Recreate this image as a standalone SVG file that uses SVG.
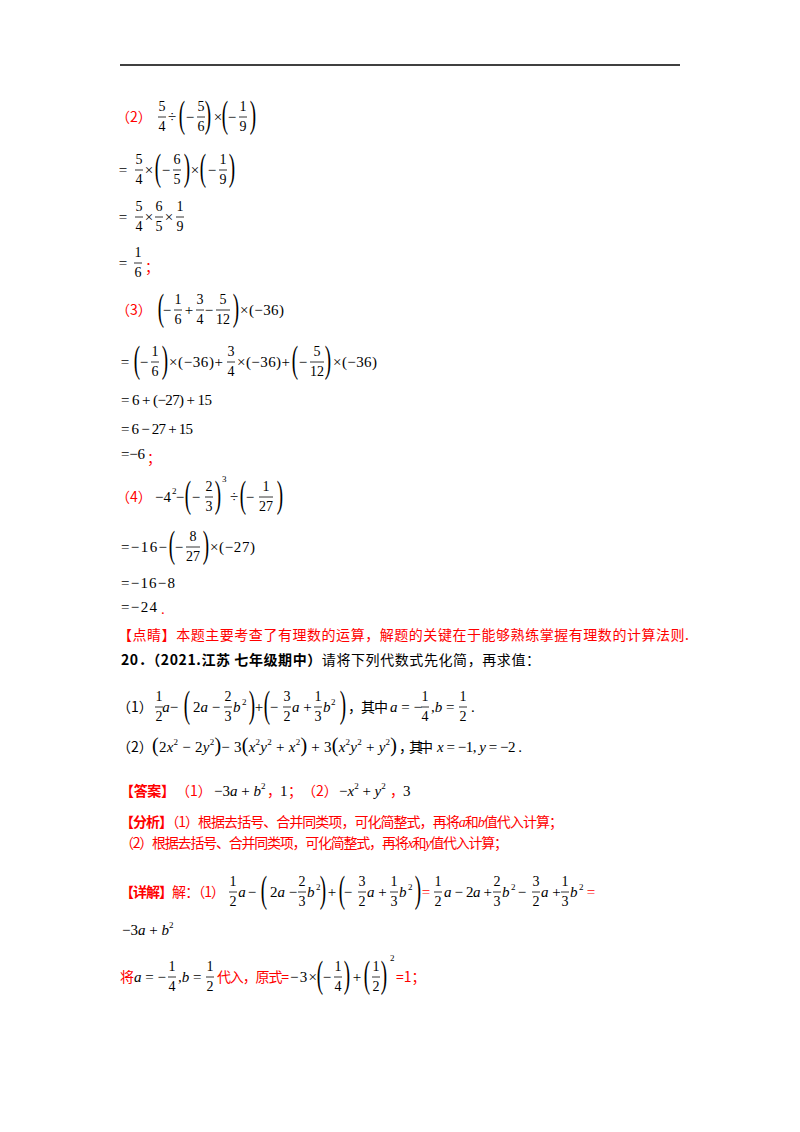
<svg xmlns="http://www.w3.org/2000/svg" width="800" height="1132" viewBox="0 0 800 1132">
<style>
text{font-family:"Liberation Serif","Noto Sans CJK SC",serif;font-size:15px;fill:#000}
.c{font-family:"Noto Sans CJK SC",sans-serif;font-size:14px}
.r{fill:#f00}
.i{font-style:italic}
.n{font-size:14px;text-anchor:middle}
.m{text-anchor:middle}
.s{font-size:9px}
.b{stroke:#000;stroke-width:0.8}
.P{font-size:38px;text-anchor:middle}
.bd{font-weight:bold}
</style>
<rect width="800" height="1132" fill="#fff"/>
<line x1="120" y1="65" x2="680" y2="65" stroke="#000" stroke-width="1.5"/>

<g id="l1">
<text class="c r" x="116" y="122" font-size="13">（2）</text>
<text class="n" x="162" y="111">5</text><text class="n" x="162" y="131">4</text><line class="b" x1="158" x2="166" y1="117" y2="117"/>
<text class="m" x="172" y="122">÷</text>
<text class="P" transform="translate(182,127) scale(0.5,1)">(</text>
<text class="m" x="190" y="122">−</text>
<text class="n" x="201" y="111">5</text><text class="n" x="201" y="131">6</text><line class="b" x1="197" x2="205" y1="117" y2="117"/>
<text class="P" transform="translate(208,127) scale(0.5,1)">)</text>
<text class="m" x="218" y="122">×</text>
<text class="P" transform="translate(225,127) scale(0.5,1)">(</text>
<text class="m" x="232" y="122">−</text>
<text class="n" x="243" y="111">1</text><text class="n" x="243" y="131">9</text><line class="b" x1="239" x2="247" y1="117" y2="117"/>
<text class="P" transform="translate(253,127) scale(0.5,1)">)</text>
</g>

<g id="l2">
<text class="m" x="123" y="175">=</text>
<text class="n" x="139" y="164">5</text><text class="n" x="139" y="184">4</text><line class="b" x1="135" x2="143" y1="170" y2="170"/>
<text class="m" x="149" y="175">×</text>
<text class="P" transform="translate(158,180) scale(0.5,1)">(</text>
<text class="m" x="166" y="175">−</text>
<text class="n" x="177" y="164">6</text><text class="n" x="177" y="184">5</text><line class="b" x1="173" x2="181" y1="170" y2="170"/>
<text class="P" transform="translate(187,180) scale(0.5,1)">)</text>
<text class="m" x="195" y="175">×</text>
<text class="P" transform="translate(203,180) scale(0.5,1)">(</text>
<text class="m" x="212" y="175">−</text>
<text class="n" x="223" y="164">1</text><text class="n" x="223" y="184">9</text><line class="b" x1="219" x2="227" y1="170" y2="170"/>
<text class="P" transform="translate(232,180) scale(0.5,1)">)</text>
</g>

<g id="l3">
<text class="m" x="123" y="222">=</text>
<text class="n" x="139" y="211">5</text><text class="n" x="139" y="231">4</text><line class="b" x1="135" x2="143" y1="217" y2="217"/>
<text class="m" x="149" y="222">×</text>
<text class="n" x="159" y="211">6</text><text class="n" x="159" y="231">5</text><line class="b" x1="155" x2="163" y1="217" y2="217"/>
<text class="m" x="169" y="222">×</text>
<text class="n" x="180" y="211">1</text><text class="n" x="180" y="231">9</text><line class="b" x1="176" x2="184" y1="217" y2="217"/>
</g>

<g id="l4">
<text class="m" x="123" y="268">=</text>
<text class="n" x="138" y="257">1</text><text class="n" x="138" y="277">6</text><line class="b" x1="134" x2="142" y1="263" y2="263"/>
<text class="c r" x="145" y="272">；</text>
</g>

<g id="l5">
<text class="c r" x="116" y="315" font-size="13">（3）</text>
<text class="P" transform="translate(161,320) scale(0.5,1)">(</text>
<text class="m" x="167" y="315">−</text>
<text class="n" x="178" y="304">1</text><text class="n" x="178" y="324">6</text><line class="b" x1="174" x2="182" y1="310" y2="310"/>
<text class="m" x="189" y="315">+</text>
<text class="n" x="200" y="304">3</text><text class="n" x="200" y="324">4</text><line class="b" x1="196" x2="204" y1="310" y2="310"/>
<text class="m" x="209" y="315">−</text>
<text class="n" x="223" y="304">5</text><text class="n" x="223" y="324">12</text><line class="b" x1="216" x2="230" y1="310" y2="310"/>
<text class="P" transform="translate(236,320) scale(0.5,1)">)</text>
<text x="240" y="315" textLength="44">×(−36)</text>
</g>

<g id="l6">
<text class="m" x="125" y="367">=</text>
<text class="P" transform="translate(137,372) scale(0.5,1)">(</text>
<text class="m" x="144" y="367">−</text>
<text class="n" x="155" y="356">1</text><text class="n" x="155" y="376">6</text><line class="b" x1="151" x2="159" y1="362" y2="362"/>
<text class="P" transform="translate(165,372) scale(0.5,1)">)</text>
<text x="169" y="367" textLength="54">×(−36)+</text>
<text class="n" x="231" y="356">3</text><text class="n" x="231" y="376">4</text><line class="b" x1="227" x2="235" y1="362" y2="362"/>
<text x="237" y="367" textLength="53">×(−36)+</text>
<text class="P" transform="translate(295,372) scale(0.5,1)">(</text>
<text class="m" x="303" y="367">−</text>
<text class="n" x="317" y="356">5</text><text class="n" x="317" y="376">12</text><line class="b" x1="310" x2="324" y1="362" y2="362"/>
<text class="P" transform="translate(328,372) scale(0.5,1)">)</text>
<text x="333" y="367" textLength="44">×(−36)</text>
</g>

<g id="l7"><text x="121" y="405" textLength="91">= 6 + (−27) + 15</text></g>
<g id="l8"><text x="121" y="434" textLength="72">= 6 − 27 + 15</text></g>
<g id="l9"><text x="121" y="459" textLength="24">=−6</text><text class="c r" x="147" y="463">；</text></g>

<g id="l10">
<text class="c r" x="116" y="502" font-size="13">（4）</text>
<text x="155" y="502">−4</text><text class="s" x="172" y="494">2</text>
<text class="m" x="180" y="502">−</text>
<text class="P" transform="translate(188,507) scale(0.5,1)">(</text>
<text class="m" x="196" y="502">−</text>
<text class="n" x="209" y="491">2</text><text class="n" x="209" y="511">3</text><line class="b" x1="205" x2="213" y1="497" y2="497"/>
<text class="P" transform="translate(218,507) scale(0.5,1)">)</text>
<text class="s" x="222" y="482">3</text>
<text class="m" x="234" y="502">÷</text>
<text class="P" transform="translate(243,507) scale(0.5,1)">(</text>
<text class="m" x="250" y="502">−</text>
<text class="n" x="266" y="491">1</text><text class="n" x="266" y="511">27</text><line class="b" x1="259" x2="273" y1="497" y2="497"/>
<text class="P" transform="translate(280,507) scale(0.5,1)">)</text>
</g>

<g id="l11">
<text x="121" y="552" textLength="46">=−16−</text>
<text class="P" transform="translate(172,557) scale(0.5,1)">(</text>
<text class="m" x="179" y="552">−</text>
<text class="n" x="193" y="541">8</text><text class="n" x="193" y="561">27</text><line class="b" x1="186" x2="200" y1="547" y2="547"/>
<text class="P" transform="translate(206,557) scale(0.5,1)">)</text>
<text x="210" y="552" textLength="45">×(−27)</text>
</g>
<g id="l12"><text x="121" y="588" textLength="54">=−16−8</text></g>
<g id="l13"><text x="121" y="612" textLength="36">=−24</text><text class="r" x="161" y="614">.</text></g>

<g id="dianjing"><text class="c r" x="118" y="640" textLength="571">【点睛】本题主要考查了有理数的运算，解题的关键在于能够熟练掌握有理数的计算法则.</text></g>

<g id="q20">
<text class="c" x="121" y="665" textLength="419"><tspan font-weight="bold">20．（2021.江苏  七年级期中）</tspan>请将下列代数式先化简，再求值：</text>
</g>

<g id="p1">
<text class="c" x="117" y="712" font-size="13">（1）</text>
<text class="n" x="159" y="701">1</text><text class="n" x="159" y="721">2</text><line class="b" x1="155" x2="163" y1="707" y2="707"/>
<text class="i m" x="166" y="712">a</text>
<text class="m" x="174" y="712">−</text>
<text class="P" transform="translate(187,717) scale(0.5,1)">(</text>
<text x="193" y="712">2<tspan class="i">a</tspan> −</text>
<text class="n" x="228" y="701">2</text><text class="n" x="228" y="721">3</text><line class="b" x1="224" x2="232" y1="707" y2="707"/>
<text class="i" x="233" y="712">b</text><text class="s" x="242" y="705">2</text>
<text class="P" transform="translate(252,717) scale(0.5,1)">)</text>
<text class="m" x="259" y="712">+</text>
<text class="P" transform="translate(267,717) scale(0.5,1)">(</text>
<text class="m" x="274" y="712">−</text>
<text class="n" x="287" y="701">3</text><text class="n" x="287" y="721">2</text><line class="b" x1="283" x2="291" y1="707" y2="707"/>
<text x="292" y="712"><tspan class="i">a</tspan> +</text>
<text class="n" x="318" y="701">1</text><text class="n" x="318" y="721">3</text><line class="b" x1="314" x2="322" y1="707" y2="707"/>
<text class="i" x="323" y="712">b</text><text class="s" x="331" y="705">2</text>
<text class="P" transform="translate(343,717) scale(0.5,1)">)</text>
<text class="c" x="348" y="712" textLength="40">，其中</text>
<text x="390" y="712"><tspan class="i">a</tspan> = −</text>
<text class="n" x="425" y="701">1</text><text class="n" x="425" y="721">4</text><line class="b" x1="421" x2="429" y1="707" y2="707"/>
<text x="431" y="712">,<tspan class="i">b</tspan> =</text>
<text class="n" x="463" y="701">1</text><text class="n" x="463" y="721">2</text><line class="b" x1="459" x2="467" y1="707" y2="707"/>
<text x="471" y="712">.</text>
</g>

<g id="p2">
<text class="c" x="117" y="752" font-size="13">（2）</text>
<text x="152" y="752" textLength="245"><tspan font-size="20">(</tspan>2<tspan class="i">x</tspan><tspan class="s" dy="-7">2</tspan><tspan dy="7"> − 2</tspan><tspan class="i">y</tspan><tspan class="s" dy="-7">2</tspan><tspan font-size="20" dy="7">)</tspan>− 3<tspan font-size="20">(</tspan><tspan class="i">x</tspan><tspan class="s" dy="-7">2</tspan><tspan class="i" dy="7">y</tspan><tspan class="s" dy="-7">2</tspan><tspan dy="7"> + </tspan><tspan class="i">x</tspan><tspan class="s" dy="-7">2</tspan><tspan font-size="20" dy="7">)</tspan> + 3<tspan font-size="20">(</tspan><tspan class="i">x</tspan><tspan class="s" dy="-7">2</tspan><tspan class="i" dy="7">y</tspan><tspan class="s" dy="-7">2</tspan><tspan dy="7"> + </tspan><tspan class="i">y</tspan><tspan class="s" dy="-7">2</tspan><tspan font-size="20" dy="7">)</tspan></text>
<text class="c" x="399" y="752" textLength="34">，其中</text>
<text x="437" y="752" textLength="85"><tspan class="i">x</tspan> = −1, <tspan class="i">y</tspan> = −2 .</text>
</g>

<g id="answer">
<text class="c r bd" x="120" y="796" textLength="55">【答案】</text>
<text class="c r" x="176" y="796" font-size="13">（1）</text>
<text x="214" y="796">−3<tspan class="i">a</tspan> + <tspan class="i">b</tspan><tspan class="s" dy="-7">2</tspan></text>
<text class="c r" x="267" y="796">，</text><text x="280" y="796">1</text><text class="c r" x="288" y="796">；</text>
<text class="c r" x="302" y="796" font-size="13">（2）</text>
<text x="339" y="796">−<tspan class="i">x</tspan><tspan class="s" dy="-7">2</tspan><tspan dy="7"> + </tspan><tspan class="i">y</tspan><tspan class="s" dy="-7">2</tspan></text>
<text class="c r" x="390" y="796">，</text><text x="403" y="796">3</text>
</g>

<g id="fenxi">
<text class="c r" x="120" y="827" textLength="443"><tspan font-weight="bold">【分析】</tspan>（1）根据去括号、合并同类项，可化简整式，再将<tspan class="i" font-family="Liberation Serif">a</tspan>和<tspan class="i" font-family="Liberation Serif">b</tspan>值代入计算；</text>
<text class="c r" x="120" y="848" textLength="388">（2）根据去括号、合并同类项，可化简整式，再将<tspan class="i" font-family="Liberation Serif">x</tspan>和<tspan class="i" font-family="Liberation Serif">y</tspan>值代入计算；</text>
</g>

<g id="xiangjie">
<text class="c r" x="120" y="897" textLength="105"><tspan font-weight="bold">【详解】</tspan>解：（1）</text>
<text class="n" x="233" y="886">1</text><text class="n" x="233" y="906">2</text><line class="b" x1="229" x2="237" y1="892" y2="892"/>
<text class="i m" x="242" y="897">a</text>
<text class="m" x="252" y="897">−</text>
<text class="P" transform="translate(264,902) scale(0.5,1)">(</text>
<text x="270" y="897">2<tspan class="i">a</tspan> −</text>
<text class="n" x="302" y="886">2</text><text class="n" x="302" y="906">3</text><line class="b" x1="298" x2="306" y1="892" y2="892"/>
<text class="i" x="307" y="897">b</text><text class="s" x="316" y="890">2</text>
<text class="P" transform="translate(323,902) scale(0.5,1)">)</text>
<text class="m" x="332" y="897">+</text>
<text class="P" transform="translate(342,902) scale(0.5,1)">(</text>
<text class="m" x="348" y="897">−</text>
<text class="n" x="362" y="886">3</text><text class="n" x="362" y="906">2</text><line class="b" x1="358" x2="366" y1="892" y2="892"/>
<text x="367" y="897"><tspan class="i">a</tspan> +</text>
<text class="n" x="394" y="886">1</text><text class="n" x="394" y="906">3</text><line class="b" x1="390" x2="398" y1="892" y2="892"/>
<text class="i" x="399" y="897">b</text><text class="s" x="408" y="890">2</text>
<text class="P" transform="translate(418,902) scale(0.5,1)">)</text>
<text class="r m" x="426" y="897">=</text>
<text class="n" x="438" y="886">1</text><text class="n" x="438" y="906">2</text><line class="b" x1="434" x2="442" y1="892" y2="892"/>
<text x="444" y="897" textLength="48"><tspan class="i">a</tspan> − 2<tspan class="i">a</tspan> +</text>
<text class="n" x="497" y="886">2</text><text class="n" x="497" y="906">3</text><line class="b" x1="493" x2="501" y1="892" y2="892"/>
<text class="i" x="502" y="897">b</text><text class="s" x="511" y="890">2</text>
<text class="m" x="522" y="897">−</text>
<text class="n" x="536" y="886">3</text><text class="n" x="536" y="906">2</text><line class="b" x1="532" x2="540" y1="892" y2="892"/>
<text x="541" y="897"><tspan class="i">a</tspan> +</text>
<text class="n" x="565" y="886">1</text><text class="n" x="565" y="906">3</text><line class="b" x1="561" x2="569" y1="892" y2="892"/>
<text class="i" x="570" y="897">b</text><text class="s" x="579" y="890">2</text>
<text class="r m" x="591" y="897">=</text>
</g>

<g id="result1"><text x="122" y="935">−3<tspan class="i">a</tspan> + <tspan class="i">b</tspan><tspan class="s" dy="-7">2</tspan></text></g>

<g id="final">
<text class="c r" x="120" y="982">将</text>
<text x="134" y="982"><tspan class="i">a</tspan> = −</text>
<text class="n" x="172" y="971">1</text><text class="n" x="172" y="991">4</text><line class="b" x1="168" x2="176" y1="977" y2="977"/>
<text x="178" y="982">,<tspan class="i">b</tspan> =</text>
<text class="n" x="210" y="971">1</text><text class="n" x="210" y="991">2</text><line class="b" x1="206" x2="214" y1="977" y2="977"/>
<text class="c r" x="217" y="982" textLength="72">代入，原式=</text>
<text x="290" y="982" textLength="27">−3×</text>
<text class="P" transform="translate(320,987) scale(0.5,1)">(</text>
<text class="m" x="327" y="982">−</text>
<text class="n" x="338" y="971">1</text><text class="n" x="338" y="991">4</text><line class="b" x1="334" x2="342" y1="977" y2="977"/>
<text class="P" transform="translate(347,987) scale(0.5,1)">)</text>
<text class="m" x="357" y="982">+</text>
<text class="P" transform="translate(367,987) scale(0.5,1)">(</text>
<text class="n" x="376" y="971">1</text><text class="n" x="376" y="991">2</text><line class="b" x1="372" x2="380" y1="977" y2="977"/>
<text class="P" transform="translate(384,987) scale(0.5,1)">)</text>
<text class="s" x="390" y="961">2</text>
<text class="c r" x="396" y="982">=1；</text>
</g>
</svg>
